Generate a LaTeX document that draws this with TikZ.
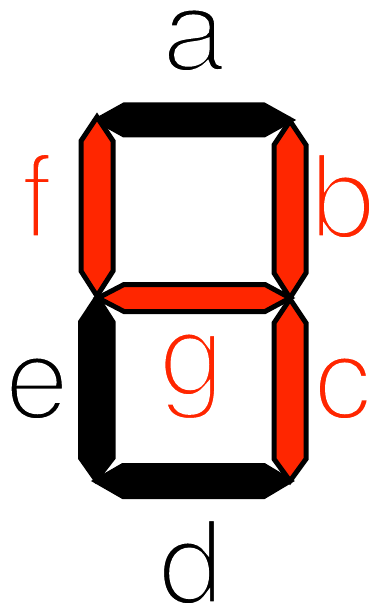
\documentclass[tikz,border=0pt]{standalone}
\usepackage{fontspec}
\setmainfont{TeX Gyre Heros}
\usepackage{tikz}
\usetikzlibrary{positioning,calc}
\definecolor{segred}{RGB}{255,38,0}
% thin the glyphs with a white outline stroke
\newcommand{\thinlbl}[1]{\special{pdf:literal direct q 2 Tr 5 w 1 G}#1\special{pdf:literal direct Q}}

\begin{document}
\begin{tikzpicture}[
    x=1pt, y=-1pt,
    every node/.style={font=\fontsize{117}{117}\selectfont, inner sep=0pt},
    segon/.style={fill=segred, draw=black, line width=5pt},
    segoff/.style={fill=black, draw=black, line width=5pt},
    lblon/.style={text=segred, anchor=base},
    lbloff/.style={text=black, anchor=base}
]
\useasboundingbox (0,0) rectangle (376,612);

% Segments (dark ones first)
\path[segoff] (97,120) -- (124,105) -- (264,105) -- (291,120)
              -- (264,135) -- (124,135) -- cycle; % a
\path[segoff] (96,481) -- (123,465.5) -- (264,465.5) -- (290,481)
              -- (264,496.5) -- (123,496.5) -- cycle; % d
\path[segoff] (97,297) -- (113,322) -- (113,458) -- (96,480)
              -- (80.5,458) -- (80.5,322) -- cycle; % e

\path[segon] (97,117) -- (113,141) -- (113,271) -- (97,296)
             -- (81,271) -- (81,141) -- cycle; % f
\path[segon] (290,121) -- (306,145) -- (306,273) -- (290,298)
             -- (274,273) -- (274,145) -- cycle; % b
\path[segon] (290,299) -- (306,323) -- (306,459) -- (290,481)
             -- (274,459) -- (274,323) -- cycle; % c
\path[segon] (98,298) -- (124,284.5) -- (265,284.5) -- (290,298)
             -- (265,311.5) -- (124,311.5) -- cycle; % g

% Labels
\node[lbloff] (la) at (194,71)  {\thinlbl{a}};
\node[lblon]  (lb) at (343,238) {\thinlbl{b}};
\node[lblon]  (lc) at (343,419) {\thinlbl{c}};
\node[lbloff] (ld) at (191,604) {\thinlbl{d}};
\node[lbloff] (le) at (37,419)  {\thinlbl{e}};
\node[lblon]  (lf) at (37,238)  {\thinlbl{f}};
\node[lblon]  (lg) at (192,395) {\thinlbl{g}};

\end{tikzpicture}
\end{document}
